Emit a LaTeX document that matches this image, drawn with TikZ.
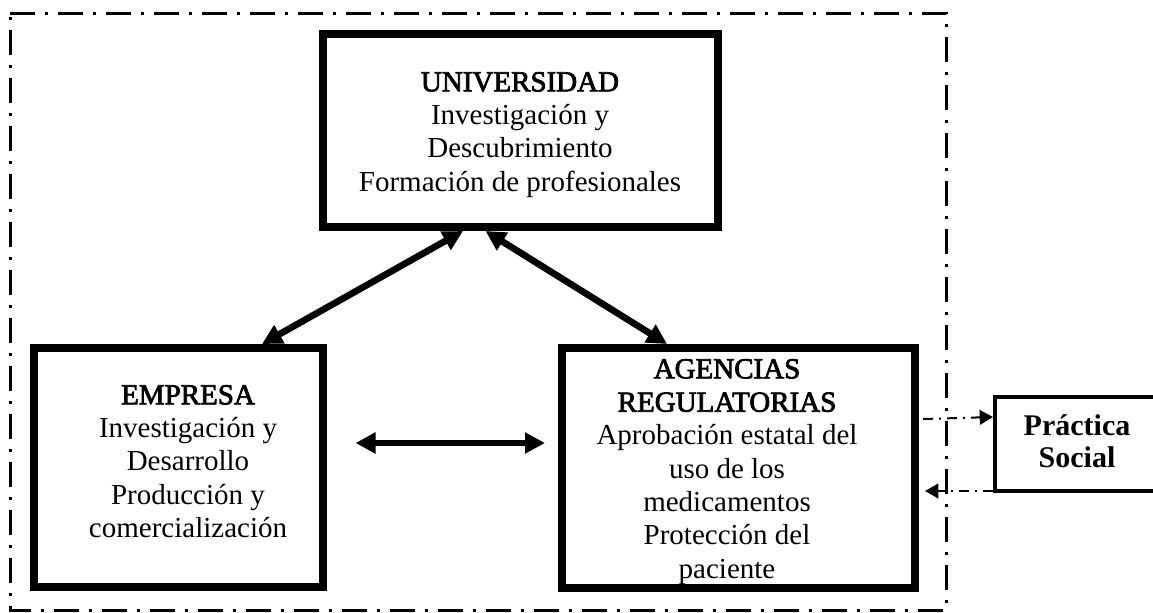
\documentclass[tikz,border=0pt]{standalone}
\usepackage{fontspec}
\setmainfont{Liberation Serif}
\newfontfamily\headfont[FakeBold=2.6]{Liberation Serif}
\usetikzlibrary{arrows.meta,calc}
\begin{document}
\begin{tikzpicture}[x=0.75pt,y=-0.75pt,
  box/.style={draw, line width=6pt, inner sep=0pt},
  sbox/.style={draw, line width=3pt, inner sep=0pt},
  txt/.style={anchor=north, inner sep=0pt, align=center, font=\fontsize{21.75pt}{25pt}\selectfont},
  btxt/.style={anchor=north, inner sep=0pt, align=center, font=\fontsize{22.5pt}{24pt}\selectfont\bfseries},
  bigarrow/.style={line width=5pt, {Triangle[length=15pt,width=15pt]}-{Triangle[length=15pt,width=15pt]}},
  dasharrow/.style={line width=1.5pt, dash pattern=on 7.5pt off 4.5pt on 1.5pt off 4.5pt, -{Triangle[length=10pt,width=11pt]}},
  frame/.style={line width=2.25pt, dash pattern=on 18.75pt off 7.5pt on 2.25pt off 7.5pt}]
\clip (0,0) rectangle (1153,612);

% outer dash-dot frame
\draw[frame] (10,13) -- (946,13) -- (946,610) -- (10,610) -- cycle;

% boxes
\node[box, minimum width=395.5*0.75pt, minimum height=193*0.75pt] (univ) at (520.25,130.5) {};
\node[box, minimum width=288.5*0.75pt, minimum height=239*0.75pt] (emp) at (178.25,467.5) {};
\node[box, minimum width=353*0.75pt, minimum height=240*0.75pt] (agen) at (738.5,468) {};
\node[sbox, minimum width=175*0.75pt, minimum height=94*0.75pt] (prac) at (1082.5,444) {};

% texts
\node[txt] (univT) at (520,67.7) {\strut{\headfont UNIVERSIDAD}\\Investigación y\\Descubrimiento\\Formación de profesionales};
\node[txt] (empT) at (188,380.7) {\strut{\headfont EMPRESA}\\Investigación y\\Desarrollo\\Producción y\\comercialización};
\node[txt] (agenT) at (727,354.7) {\strut{\headfont AGENCIAS}\\{\headfont REGULATORIAS}\\Aprobación estatal del\\uso de los\\medicamentos\\Protección del\\paciente};
\node[btxt] (pracT) at (1077,412.6) {\strut Práctica\\Social};

% thick arrows
\draw[bigarrow] ($(univ.south west)+(144.5,0)$) -- ($(emp.north west)+(232,0)$);
\draw[bigarrow] ($(univ.south west)+(167,0)$) -- ($(agen.north west)+(109,0)$);
\draw[bigarrow] ($(emp.north east)+(29,99)$) -- ($(agen.north west)+(-13,99)$);

% dashed arrows
\draw[dasharrow] ($(agen.north east)+(4,75)$) -- ($(prac.north west)+(0,22)$);
\draw[dasharrow] ($(prac.south west)+(0,-2)$) -- ($(agen.north east)+(6,147)$);
\end{tikzpicture}
\end{document}
